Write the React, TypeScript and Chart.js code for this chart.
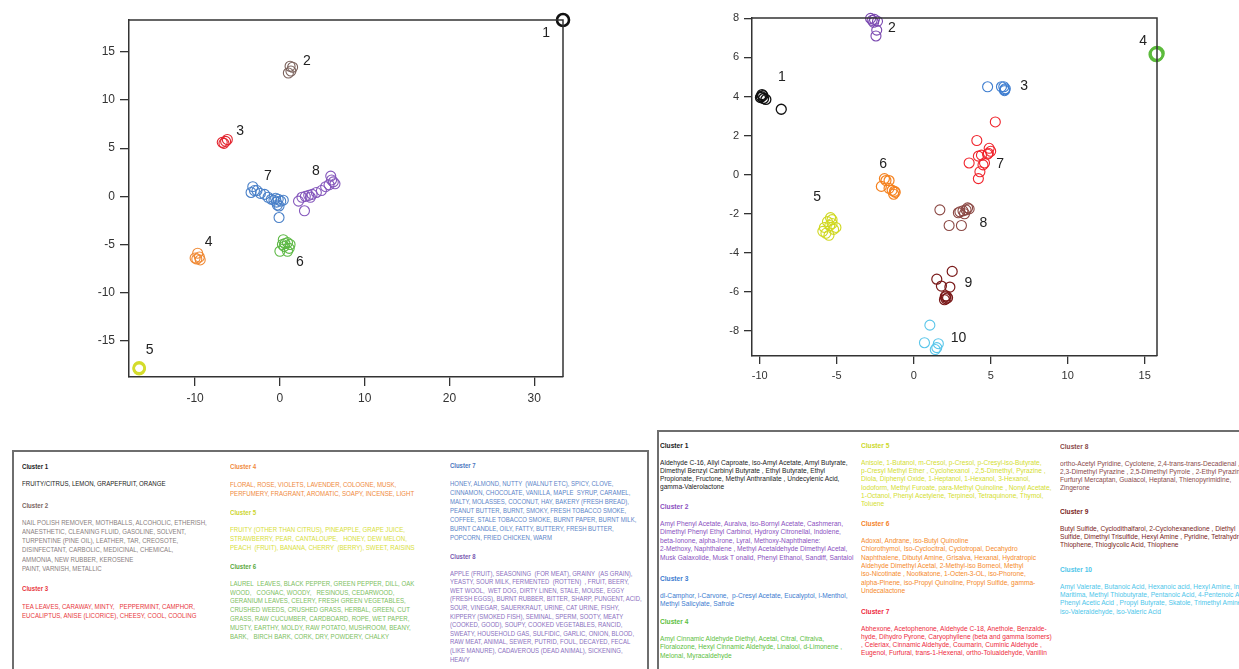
import React, { useEffect, useRef } from "react";
import { Chart, registerables } from "chart.js";

Chart.register(...registerables);

// ---------- Axis ticks ----------
const leftXTicks = [-10, 0, 10, 20, 30];
const leftYTicks = [-15, -10, -5, 0, 5, 10, 15];
const rightXTicks = [-10, -5, 0, 5, 10, 15];
const rightYTicks = [-8, -6, -4, -2, 0, 2, 4, 6, 8];

const leftXRange = [-17.8, 33.4];
const leftYRange = [-18.75, 18.3];
const rightXRange = [-10.5, 15.8];
const rightYRange = [-9.28, 8.02];

// ---------- Left plot (odor descriptors) ----------
const leftNames = ["1", "2", "3", "4", "5", "6", "7", "8"];
const left1 = [[33.4, 18.3]];
const left2 = [[1.2, 13.5], [1.5, 13.4], [1.0, 12.8], [1.3, 13.0]];
const left3 = [[-6.6, 5.5], [-6.2, 5.9], [-6.4, 5.7], [-6.8, 5.6]];
const left4 = [[-9.8, -6.5], [-9.5, -6.3], [-9.7, -5.9], [-9.4, -6.6], [-10.0, -6.4]];
const left5 = [[-16.6, -17.9], [-16.6, -17.8]];
const left6 = [[0.4, -4.5], [0.9, -4.8], [1.2, -5.0], [0.5, -5.2], [0.0, -5.7], [0.9, -5.7], [1.1, -5.4], [0.6, -4.9], [0.3, -5.0]];
const left7 = [[-3.2, 1.0], [-3.4, 0.4], [-2.7, 0.6], [-2.3, 0.3], [-1.8, 0.2], [-1.4, -0.1], [-1.0, -0.3], [-0.7, -0.4], [-0.4, -0.6], [-0.2, -0.3], [0.1, -0.5], [-0.3, -0.9], [-0.1, -1.0], [0.4, -0.4], [-0.5, -0.2], [-0.1, -2.2], [-3.0, 0.6]];
const left8 = [[2.2, -0.5], [2.6, -0.1], [3.0, 0.0], [3.4, 0.1], [3.8, 0.2], [4.3, 0.4], [4.9, 0.6], [5.4, 1.0], [6.0, 2.1], [6.3, 1.5], [6.5, 1.3], [6.1, 1.7], [2.9, -1.5], [3.6, -0.1], [5.8, 1.2]];
const leftLabelPos = [[31.4, 16.9], [3.2, 14.0], [-4.7, 6.8], [-8.4, -4.8], [-15.35, -16.0], [2.36, -6.8], [-1.42, 2.13], [4.25, 2.65]];

// ---------- Right plot (odorants) ----------
const rightNames = ["1", "2", "3", "4", "5", "6", "7", "8", "9", "10"];
const right1 = [[-9.9, 4.0], [-9.8, 4.05], [-9.95, 3.95], [-9.75, 3.9], [-9.85, 4.1], [-9.6, 3.85], [-8.6, 3.35]];
const right2 = [[-2.8, 8.0], [-2.55, 7.95], [-2.6, 7.8], [-2.4, 7.4], [-2.45, 7.1], [-2.7, 7.9], [-2.35, 7.85]];
const right3 = [[4.8, 4.5], [5.7, 4.5], [5.9, 4.35], [5.95, 4.4], [5.85, 4.5], [5.9, 4.3]];
const right4 = [[15.8, 6.2], [15.75, 6.15]];
const right5 = [[-5.4, -2.2], [-5.6, -2.4], [-5.3, -2.5], [-5.8, -2.7], [-5.2, -2.8], [-5.7, -3.0], [-5.5, -3.1], [-5.05, -2.7], [-5.9, -2.9], [-5.45, -2.6], [-5.3, -2.3]];
const right6 = [[-1.8, -0.3], [-1.6, -0.3], [-2.1, -0.6], [-1.4, -0.8], [-1.2, -0.9], [-1.3, -1.0], [-1.6, -0.7], [-1.9, -0.2], [-1.25, -0.85]];
const right7 = [[5.3, 2.7], [4.1, 1.75], [4.9, 1.35], [4.85, 1.1], [4.4, 1.0], [4.2, 0.95], [4.6, 0.6], [3.6, 0.6], [4.5, 0.5], [4.3, 0.15], [4.2, -0.2], [5.0, 1.2], [4.8, 1.05]];
const right8 = [[1.7, -1.8], [2.3, -2.6], [3.1, -2.6], [3.0, -1.9], [3.2, -1.85], [3.4, -1.8], [3.5, -1.7], [3.3, -2.0], [3.6, -1.75], [2.9, -1.95]];
const right9 = [[2.5, -4.95], [1.5, -5.35], [1.8, -5.7], [2.35, -5.75], [2.1, -6.2], [2.0, -6.4], [2.2, -6.3], [2.1, -6.35], [2.05, -6.25]];
const right10 = [[1.05, -7.7], [0.7, -8.6], [1.6, -8.65], [1.5, -8.85], [1.4, -8.95]];
const rightLabelPos = [[-8.56, 4.97], [-1.42, 7.5], [7.18, 4.55], [14.9, 6.82], [-6.27, -1.13], [-1.98, 0.53], [5.62, 0.53], [4.53, -2.46], [3.56, -5.54], [2.91, -8.39]];

// ---------- Styles ----------
const leftColors = ["#111111", "#7b625c", "#e32630", "#f08a35", "#d4dc2c", "#5cb844", "#4a80c8", "#8558bc"];
const leftWidths = [2.6, 1.1, 1.1, 1.1, 2.6, 1.1, 1.1, 1.1];
const leftRadii = [6, 5, 5, 5, 5.5, 5, 5, 5];
const rightColors = ["#111111", "#7a48b0", "#3f7ed0", "#5cbb3c", "#d0d820", "#f5821f", "#f0242c", "#8b4844", "#7a1a1a", "#5ac6ea"];
const rightWidths = [1.3, 1.1, 1.1, 2.6, 1.1, 1.2, 1.1, 1.1, 1.2, 1.1];
const rightRadii = [5, 5, 5, 6.5, 5, 5, 5, 5, 5, 5];

const AXIS = "#333333";
const FONT = "'Liberation Sans', Arial, sans-serif";

function buildDatasets(groups: number[][][], colors: string[], widths: number[], radii: number[]) {
  return groups.map((g, i) => ({
    label: String(i + 1),
    data: g.map(([x, y]) => ({ x, y })),
    pointStyle: "circle",
    pointRadius: radii[i],
    pointBorderWidth: widths[i],
    borderColor: colors[i],
    pointBorderColor: colors[i],
    backgroundColor: "rgba(0,0,0,0)",
    pointBackgroundColor: "rgba(0,0,0,0)",
    showLine: false,
    clip: false as any,
  }));
}

function scaleCfg(range: number[], ticks: number[], isX: boolean, fit: number, fontSize: number, tickLen: number, pad: number) {
  return {
    type: "linear" as const,
    min: range[0],
    max: range[1],
    afterBuildTicks: (s: any) => {
      s.ticks = ticks.map((v) => ({ value: v }));
    },
    afterFit: (s: any) => {
      if (isX) s.height = fit;
      else s.width = fit;
    },
    grid: { drawOnChartArea: false, drawTicks: true, tickLength: tickLen, color: AXIS, lineWidth: 1.3 },
    border: { display: true, color: AXIS, width: 1.5 },
    ticks: {
      color: "#333",
      font: { family: FONT, size: fontSize },
      padding: pad,
      autoSkip: false,
      maxRotation: 0,
      callback: (v: any) => String(v),
    },
  };
}

function framePlugin(names: string[], pos: number[][], fontSize: number) {
  return {
    id: "frameLabels",
    afterDatasetsDraw(chart: any) {
      const { ctx, chartArea: a, scales } = chart;
      ctx.save();
      ctx.strokeStyle = AXIS;
      ctx.lineWidth = 1.5;
      ctx.beginPath();
      ctx.moveTo(a.left, a.top);
      ctx.lineTo(a.right, a.top);
      ctx.lineTo(a.right, a.bottom);
      ctx.stroke();
      ctx.fillStyle = "#222";
      ctx.font = `${fontSize}px ${FONT}`;
      ctx.textAlign = "center";
      ctx.textBaseline = "middle";
      names.forEach((n, i) => {
        ctx.fillText(n, scales.x.getPixelForValue(pos[i][0]), scales.y.getPixelForValue(pos[i][1]));
      });
      ctx.restore();
    },
  };
}

function ScatterChart(props: {
  left: number; top: number; width: number; height: number;
  groups: number[][][]; colors: string[]; widths: number[]; radii: number[];
  names: string[]; labelPos: number[][];
  xRange: number[]; yRange: number[]; xTicks: number[]; yTicks: number[];
  padTop: number; padRight: number; yWidth: number; xHeight: number;
  tickFont: number; tickLen: number; labelFont: number;
}) {
  const ref = useRef<HTMLCanvasElement | null>(null);
  useEffect(() => {
    if (!ref.current) return;
    const chart = new Chart(ref.current, {
      type: "scatter",
      data: { datasets: buildDatasets(props.groups, props.colors, props.widths, props.radii) as any },
      options: {
        responsive: false,
        animation: false,
        layout: { padding: { top: props.padTop, right: props.padRight, left: 0, bottom: 0 } },
        plugins: { legend: { display: false }, tooltip: { enabled: false } },
        scales: {
          x: scaleCfg(props.xRange, props.xTicks, true, props.xHeight, props.tickFont, props.tickLen, 5) as any,
          y: scaleCfg(props.yRange, props.yTicks, false, props.yWidth, props.tickFont, props.tickLen, 5) as any,
        },
      },
      plugins: [framePlugin(props.names, props.labelPos, props.labelFont)],
    });
    return () => chart.destroy();
  }, []);
  return (
    <canvas
      ref={ref}
      width={props.width}
      height={props.height}
      style={{ position: "absolute", left: props.left, top: props.top, width: props.width, height: props.height }}
    />
  );
}

// ---------- Text boxes ----------
type Section = { title: string; lines: string[]; titleColor: string; color: string; x: number; y: number; lh: number; sx?: number };

const leftSections: Section[] = [
  { title: "Cluster 1", titleColor: "#1a1a1a", color: "#222", x: 22, y: 467, lh: 9.1, lines: ["FRUITY/CITRUS, LEMON, GRAPEFRUIT, ORANGE"] },
  { title: "Cluster 2", titleColor: "#7a6560", color: "#8a807e", x: 22, y: 505.7, lh: 9.1, lines: [
    "NAIL POLISH REMOVER, MOTHBALLS, ALCOHOLIC, ETHERISH,",
    "ANAESTHETIC, CLEANING FLUID, GASOLINE, SOLVENT,",
    "TURPENTINE (PINE OIL), LEATHER, TAR, CREOSOTE,",
    "DISINFECTANT, CARBOLIC, MEDICINAL, CHEMICAL,",
    "AMMONIA, NEW RUBBER, KEROSENE",
    "PAINT, VARNISH, METALLIC",
  ] },
  { title: "Cluster 3", titleColor: "#e8383d", color: "#e8383d", x: 22, y: 589.3, lh: 9.1, lines: [
    "TEA LEAVES, CARAWAY, MINTY,   PEPPERMINT, CAMPHOR,",
    "EUCALIPTUS, ANISE (LICORICE), CHEESY, COOL, COOLING",
  ] },
  { title: "Cluster 4", titleColor: "#f08a3c", color: "#f08a3c", x: 230, y: 467.3, lh: 9.0, lines: [
    "FLORAL, ROSE, VIOLETS, LAVENDER, COLOGNE, MUSK,",
    "PERFUMERY, FRAGRANT, AROMATIC, SOAPY, INCENSE, LIGHT",
  ] },
  { title: "Cluster 5", titleColor: "#ccd62e", color: "#d8e03a", x: 230, y: 512.7, lh: 9.0, lines: [
    "FRUITY (OTHER THAN CITRUS), PINEAPPLE, GRAPE JUICE,",
    "STRAWBERRY, PEAR, CANTALOUPE,   HONEY, DEW MELON,",
    "PEACH  (FRUIT), BANANA, CHERRY  (BERRY), SWEET, RAISINS",
  ] },
  { title: "Cluster 6", titleColor: "#5aa83c", color: "#7cc060", x: 230, y: 567.3, lh: 8.8, lines: [
    "LAUREL  LEAVES, BLACK PEPPER, GREEN PEPPER, DILL, OAK",
    "WOOD,   COGNAC, WOODY,   RESINOUS, CEDARWOOD,",
    "GERANIUM LEAVES, CELERY, FRESH GREEN VEGETABLES,",
    "CRUSHED WEEDS, CRUSHED GRASS, HERBAL, GREEN, CUT",
    "GRASS, RAW CUCUMBER, CARDBOARD, ROPE, WET PAPER,",
    "MUSTY, EARTHY, MOLDY, RAW POTATO, MUSHROOM, BEANY,",
    "BARK,   BIRCH BARK, CORK, DRY, POWDERY, CHALKY",
  ] },
  { title: "Cluster 7", titleColor: "#4a76c0", color: "#5a84c8", x: 450, y: 466, lh: 9.0, sx: 0.83, lines: [
    "HONEY, ALMOND, NUTTY  (WALNUT ETC), SPICY, CLOVE,",
    "CINNAMON, CHOCOLATE, VANILLA, MAPLE  SYRUP, CARAMEL,",
    "MALTY, MOLASSES, COCONUT, HAY, BAKERY (FRESH BREAD),",
    "PEANUT BUTTER, BURNT, SMOKY, FRESH TOBACCO SMOKE,",
    "COFFEE, STALE TOBACCO SMOKE, BURNT PAPER, BURNT MILK,",
    "BURNT CANDLE, OILY, FATTY, BUTTERY, FRESH BUTTER,",
    "POPCORN, FRIED CHICKEN, WARM",
  ] },
  { title: "Cluster 8", titleColor: "#7858b0", color: "#8a70c0", x: 450, y: 557, lh: 8.6, sx: 0.83, lines: [
    "APPLE (FRUIT), SEASONING  (FOR MEAT), GRAINY  (AS GRAIN),",
    "YEASTY, SOUR MILK, FERMENTED  (ROTTEN)  , FRUIT, BEERY,",
    "WET WOOL,  WET DOG, DIRTY LINEN, STALE, MOUSE, EGGY",
    "(FRESH EGGS), BURNT RUBBER, BITTER, SHARP, PUNGENT, ACID,",
    "SOUR, VINEGAR, SAUERKRAUT, URINE, CAT URINE, FISHY,",
    "KIPPERY (SMOKED FISH), SEMINAL, SPERM, SOOTY, MEATY",
    "(COOKED, GOOD), SOUPY, COOKED VEGETABLES, RANCID,",
    "SWEATY, HOUSEHOLD GAS, SULFIDIC, GARLIC, ONION, BLOOD,",
    "RAW MEAT, ANIMAL, SEWER, PUTRID, FOUL, DECAYED, FECAL",
    "(LIKE MANURE), CADAVEROUS (DEAD ANIMAL), SICKENING,",
    "HEAVY",
  ] },
];

const rightSections: Section[] = [
  { title: "Cluster 1", titleColor: "#1a1a1a", color: "#222", x: 660, y: 445.7, lh: 8.3, lines: [
    "Aldehyde C-16, Allyl Caproate, iso-Amyl Acetate, Amyl Butyrate,",
    "Dimethyl Benzyl Carbinyl Butyrate , Ethyl Butyrate, Ethyl",
    "Propionate, Fructone, Methyl Anthranilate , Undecylenic Acid,",
    "gamma-Valerolactone",
  ] },
  { title: "Cluster 2", titleColor: "#8a50c0", color: "#8a50c0", x: 660, y: 507.3, lh: 8.4, lines: [
    "Amyl Phenyl Acetate, Auralva, iso-Bornyl Acetate, Cashmeran,",
    "Dimethyl Phenyl Ethyl Carbinol, Hydroxy Citronellal, Indolene,",
    "beta-Ionone, alpha-Irone, Lyral, Methoxy-Naphthalene:",
    "2-Methoxy, Naphthalene , Methyl Acetaldehyde Dimethyl Acetal,",
    "Musk Galaxolide, Musk T onalid, Phenyl Ethanol, Sandiff, Santalol",
  ] },
  { title: "Cluster 3", titleColor: "#3c7cd0", color: "#3c7cd0", x: 660, y: 579, lh: 8.3, lines: [
    "dl-Camphor, l-Carvone,  p-Cresyl Acetate, Eucalyptol, l-Menthol,",
    "Methyl Salicylate, Safrole",
  ] },
  { title: "Cluster 4", titleColor: "#5cc040", color: "#5cc040", x: 660, y: 622.3, lh: 8.3, lines: [
    "Amyl Cinnamic Aldehyde Diethyl, Acetal, Citral, Citralva,",
    "Floralozone, Hexyl Cinnamic Aldehyde, Linalool, d-Limonene ,",
    "Melonal, Myracaldehyde",
  ] },
  { title: "Cluster 5", titleColor: "#ccd828", color: "#d4de30", x: 861, y: 446, lh: 8.3, lines: [
    "Anisole, 1-Butanol, m-Cresol, p-Cresol, p-Cresyl-iso-Butyrate,",
    "p-Cresyl Methyl Ether , Cyclohexanol , 2,5-Dimethyl, Pyrazine ,",
    "Diola, Diphenyl Oxide, 1-Heptanol, 1-Hexanol, 3-Hexanol,",
    "Iodoform, Methyl Furoate, para-Methyl Quinoline , Nonyl Acetate,",
    "1-Octanol, Phenyl Acetylene, Terpineol, Tetraquinone, Thymol,",
    "Toluene",
  ] },
  { title: "Cluster 6", titleColor: "#f5842a", color: "#f58a2a", x: 861, y: 524.3, lh: 8.35, lines: [
    "Adoxal, Andrane, iso-Butyl Quinoline",
    "Chlorothymol, Iso-Cyclocitral, Cyclotropal, Decahydro",
    "Naphthalene, Dibutyl Amine, Grisalva, Hexanal, Hydratropic",
    "Aldehyde Dimethyl Acetal, 2-Methyl-iso Borneol, Methyl",
    "iso-Nicotinate , Nootkatone, 1-Octen-3-OL, iso-Phorone,",
    "alpha-Pinene, iso-Propyl Quinoline, Propyl Sulfide, gamma-",
    "Undecalactone",
  ] },
  { title: "Cluster 7", titleColor: "#ee2a40", color: "#ee2a40", x: 861, y: 611.7, lh: 8.3, lines: [
    "Abhexone, Acetophenone, Aldehyde C-18, Anethole, Benzalde-",
    "hyde, Dihydro Pyrone, Caryophyllene (beta and gamma Isomers)",
    ", Celeriax, Cinnamic Aldehyde, Coumarin, Cuminic Aldehyde ,",
    "Eugenol, Furfural, trans-1-Hexenal, ortho-Tolualdehyde, Vanillin",
  ] },
  { title: "Cluster 8", titleColor: "#8a4a4a", color: "#8a4a4a", x: 1060, y: 446.7, lh: 8.3, lines: [
    "ortho-Acetyl Pyridine, Cyclotene, 2,4-trans-trans-Decadienal ,",
    "2,3-Dimethyl Pyrazine , 2,5-Dimethyl Pyrrole , 2-Ethyl Pyrazine,",
    "Furfuryl Mercaptan, Guaiacol, Heptanal, Thienopyrimidine,",
    "Zingerone",
  ] },
  { title: "Cluster 9", titleColor: "#7a1e22", color: "#7a1e22", x: 1060, y: 511.7, lh: 8.3, lines: [
    "Butyl Sulfide, Cyclodithalfarol, 2-Cyclohexanedione , Diethyl",
    "Sulfide, Dimethyl Trisulfide, Hexyl Amine , Pyridine, Tetrahydro",
    "Thiophene, Thioglycolic Acid, Thiophene",
  ] },
  { title: "Cluster 10", titleColor: "#4ec6ea", color: "#4ec6ea", x: 1060, y: 570, lh: 8.3, lines: [
    "Amyl Valerate, Butanoic Acid, Hexanoic acid, Hexyl Amine, Indole,",
    "Maritima, Methyl Thiobutyrate, Pentanoic Acid, 4-Pentenoic Acid,",
    "Phenyl Acetic Acid , Propyl Butyrate, Skatole, Trimethyl Amine,",
    "iso-Valeraldehyde, iso-Valeric Acid",
  ] },
];

function TextSections(props: { sections: Section[]; fontSize: number; titleSize: number; scaleX: number; firstGap: number }) {
  return (
    <>
      {props.sections.map((s, i) => (
        <div
          key={i}
          style={{
            position: "absolute",
            left: s.x,
            top: s.y - 6,
            transform: `scaleX(${s.sx ?? props.scaleX})`,
            transformOrigin: "left top",
            whiteSpace: "pre",
            fontFamily: FONT,
            fontSize: props.fontSize,
            color: s.color,
          }}
        >
          <div style={{ fontWeight: "bold", color: s.titleColor, fontSize: props.titleSize, height: 6 + props.firstGap - s.lh / 2, lineHeight: "12px" }}>
            {s.title}
          </div>
          {s.lines.map((l, j) => (
            <div key={j} style={{ height: s.lh, lineHeight: `${s.lh}px` }}>
              {l}
            </div>
          ))}
        </div>
      ))}
    </>
  );
}

export default function App() {
  return (
    <div style={{ position: "absolute", left: 0, top: 0, width: 1239, height: 669, overflow: "hidden", background: "#fff" }}>
      <ScatterChart
        left={0} top={0} width={620} height={420}
        groups={[left1, left2, left3, left4, left5, left6, left7, left8]}
        colors={leftColors} widths={leftWidths} radii={leftRadii}
        names={leftNames} labelPos={leftLabelPos}
        xRange={leftXRange} yRange={leftYRange} xTicks={leftXTicks} yTicks={leftYTicks}
        padTop={20} padRight={57} yWidth={129} xHeight={43}
        tickFont={12} tickLen={9} labelFont={14}
      />
      <ScatterChart
        left={640} top={0} width={599} height={400}
        groups={[right1, right2, right3, right4, right5, right6, right7, right8, right9, right10]}
        colors={rightColors} widths={rightWidths} radii={rightRadii}
        names={rightNames} labelPos={rightLabelPos}
        xRange={rightXRange} yRange={rightYRange} xTicks={rightXTicks} yTicks={rightYTicks}
        padTop={18} padRight={82} yWidth={112} xHeight={44}
        tickFont={11} tickLen={8} labelFont={14}
      />
      <div style={{ position: "absolute", left: 12, top: 450, width: 637, height: 260, border: "2px solid #6e6e6e", boxSizing: "border-box" }} />
      <div style={{ position: "absolute", left: 657, top: 430, width: 620, height: 280, border: "2px solid #6e6e6e", boxSizing: "border-box" }} />
      <TextSections sections={leftSections} fontSize={7.2} titleSize={7.2} scaleX={0.85} firstGap={17} />
      <TextSections sections={rightSections} fontSize={6.9} titleSize={6.9} scaleX={0.96} firstGap={17} />
    </div>
  );
}
